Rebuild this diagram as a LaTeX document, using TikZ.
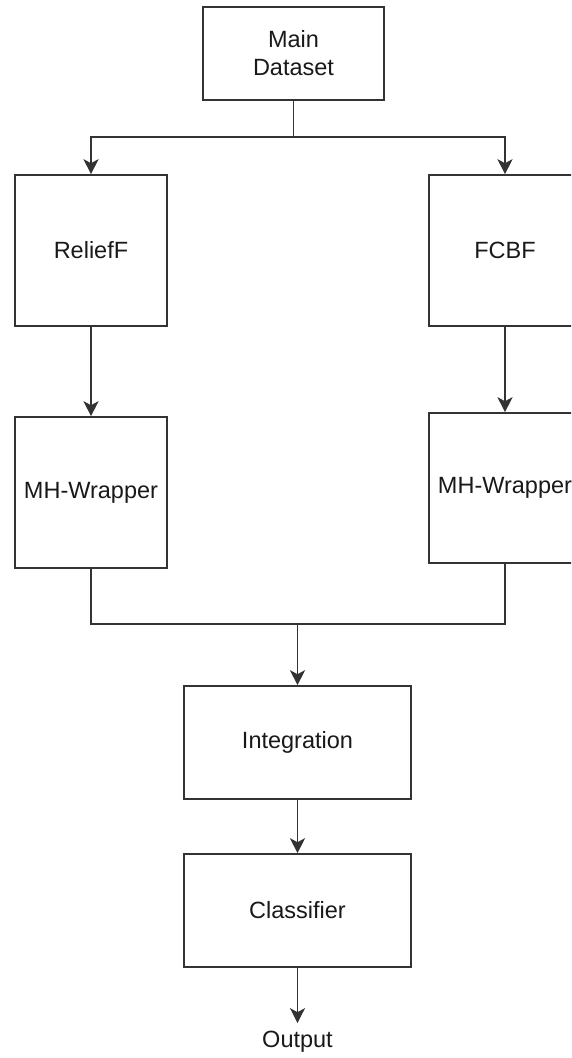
\documentclass[tikz,border=0pt]{standalone}
\usepackage{fontspec}
\setmainfont{Liberation Sans}
\usetikzlibrary{arrows.meta}
\begin{document}
\begin{tikzpicture}[x=1pt,y=-1pt,
  every node/.style={font=\fontsize{23.5}{28}\selectfont, text=black!90},
  blockbox/.style={draw=black!80, line width=1.6pt, fill=white, inner sep=0pt, anchor=center},
  link/.style={draw=black!80, line width=1.6pt},
  flow/.style={link, -{Stealth[length=15pt,width=15pt,inset=4pt]}}]
\useasboundingbox (0,0) rectangle (571,1058);
\clip (0,0) rectangle (571,1058);

% processing blocks
\node[blockbox, minimum width=181pt, minimum height=93pt, align=center] (main) at (293.5,53.5) {Main\\Dataset};
\node[blockbox, minimum width=152pt, minimum height=151pt] (relief) at (91,250.5) {ReliefF};
\node[blockbox, minimum width=152pt, minimum height=151pt] (fcbf) at (505,250.5) {FCBF};
\node[blockbox, minimum width=152pt, minimum height=151pt] (mhl) at (91,492.5) {MH-Wrapper};
\node[blockbox, minimum width=152pt, minimum height=150pt] (mhr) at (505,488) {MH-Wrapper};
\node[blockbox, minimum width=227pt, minimum height=113pt] (integ) at (297.5,742.5) {Integration};
\node[blockbox, minimum width=227pt, minimum height=113pt] (clf) at (297.5,910.5) {Classifier};
\node[inner sep=8pt] (out) at (297.5,1042) {Output};

% branch points
\coordinate (split) at (293.5,137);
\coordinate (join) at (297.5,624);

% dataset split into both selectors
\draw[link] (main.south) -- (split);
\draw[flow] (split) -| (relief.north);
\draw[flow] (split) -| (fcbf.north);

% selectors feed the wrappers
\draw[flow] (relief) -- (mhl);
\draw[flow] (fcbf) -- (mhr);

% wrappers merge into integration
\draw[link] (mhl.south) |- (join);
\draw[link] (mhr.south) |- (join);
\draw[flow] (join) -- (integ.north);

% final stages
\draw[flow] (integ) -- (clf);
\draw[flow] (clf) -- (out);
\end{tikzpicture}
\end{document}
